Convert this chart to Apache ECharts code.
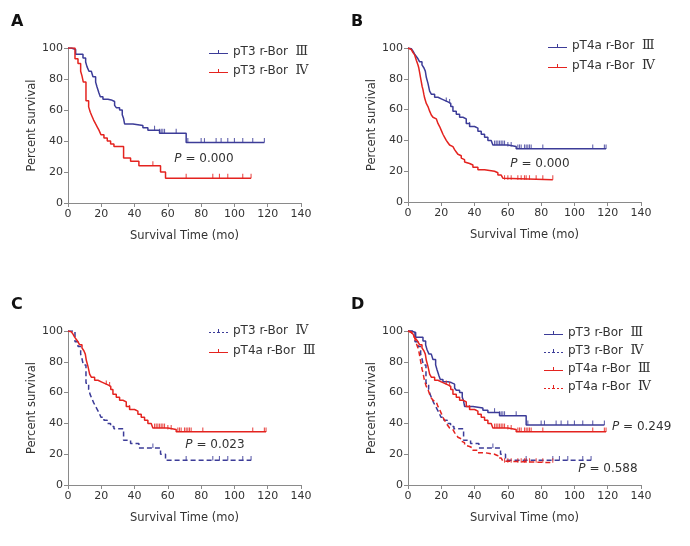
<!DOCTYPE html>
<html><head><meta charset="utf-8">
<script src="https://cdn.jsdelivr.net/npm/echarts@6/dist/echarts.min.js"></script>
<style>html,body{margin:0;padding:0;background:#fff}#c{width:690px;height:546px}</style>
</head><body><div id="c"></div>
<script>
// ---- data (months, percent survival; step changes) ----
const pT3_III_t = [0, 2, 4.6, 9, 10.6, 11.4, 12.6, 14, 15, 16.6, 17.4, 18.6, 19.4, 21, 24, 26, 28, 29, 31, 32.6, 33.4, 34, 39, 45, 48, 55, 71, 118];
const pT3_III_s = [100, 99, 96, 93.5, 91, 88, 85, 84, 81.5, 78, 75, 71, 68.5, 67, 66.5, 65.5, 63, 61.5, 60, 57, 54.5, 51, 50, 48.5, 47, 45, 39, 39];
const pT3_III_c = [52, 55, 56, 57, 58, 65, 72, 80, 82, 89, 92, 96, 100, 105, 111, 118];

const pT3_IV_t = [0, 4.2, 6, 7.6, 8.4, 9.2, 10.8, 12.4, 13.4, 14.4, 15.4, 16.6, 17.6, 18.6, 19.8, 21.6, 23.6, 25.6, 27.6, 33.4, 37.6, 42.6, 55.6, 58.6, 110];
const pT3_IV_s = [100, 93, 90, 85, 82, 78, 66, 62, 58.5, 56, 53.5, 51, 49, 47, 44, 42, 40, 38, 36.5, 29, 27, 24, 20, 16, 16];
const pT3_IV_c = [51, 71, 87, 91, 96, 105, 110];

const pT4a_III_t = [0, 1, 2, 3, 4, 5, 6, 7, 8.4, 9.6, 10.4, 11, 12, 13, 14, 16, 18, 20, 22, 24, 25.7, 27, 29, 31, 33, 35, 37, 40, 42, 44, 46, 48, 50, 51, 60, 65, 119];
const pT4a_III_s = [100, 99.5, 99, 98, 96, 94.5, 93, 91, 89, 87, 85, 81, 77, 72, 70, 68, 67, 66, 65, 64, 62, 59, 57, 55, 54, 51, 49, 48, 46, 44, 42, 40, 39, 37, 36, 34.5, 34.5];
const pT4a_III_c = [23, 25, 37, 52, 53, 54, 55, 56, 57, 58, 60, 62, 66, 67, 68, 70, 71, 72, 73, 74, 81, 111, 118, 119];

const pT4a_IV_t = [0, 1, 2, 3, 4, 5, 6, 6.5, 7, 7.5, 8, 8.5, 9, 9.5, 10, 11, 12, 13, 14, 15, 16, 17, 18, 19, 20, 21, 22, 23, 24, 25, 26, 27, 28, 29, 30, 31, 32, 33, 34, 35, 37, 39, 42, 46, 49, 52, 54, 56, 57, 58, 87];
const pT4a_IV_s = [100, 99, 98, 97, 95.5, 92, 89, 87, 84, 81, 78, 75, 73, 70, 67.5, 64, 62, 59, 56.5, 55, 54, 53, 51, 49, 46.5, 44, 42, 40, 38.5, 37, 36, 35, 34, 32.5, 31, 30, 28.5, 27.5, 26, 25, 24, 22.5, 21, 20.5, 20, 19, 17.5, 16.5, 15.5, 14.5, 14.5];
const pT4a_IV_c = [58, 60, 62, 66, 68, 70, 71, 73, 77, 81, 87];

const xTicks = [0, 20, 40, 60, 80, 100, 120, 140];
const yTicks = [0, 20, 40, 60, 80, 100];
const pValues = { A: ['0.000'], B: ['0.000'], C: ['0.023'], D: ['0.249', '0.588'] };
const groups = {
  pT3_III: { label: 'pT3 r-Bor Ⅲ', t: pT3_III_t, s: pT3_III_s, c: pT3_III_c },
  pT3_IV: { label: 'pT3 r-Bor Ⅳ', t: pT3_IV_t, s: pT3_IV_s, c: pT3_IV_c },
  pT4a_III: { label: 'pT4a r-Bor Ⅲ', t: pT4a_III_t, s: pT4a_III_s, c: pT4a_III_c },
  pT4a_IV: { label: 'pT4a r-Bor Ⅳ', t: pT4a_IV_t, s: pT4a_IV_s, c: pT4a_IV_c }
};

// ---- styling ----
const BLUE = '#3c3c98', RED = '#e4231f';
const FONT = 'DejaVu Sans, Verdana, sans-serif';
const panels = [
  { id: 'A', grid: { left: 68, top: 48, width: 233, height: 155 }, legend: { left: 209, top: 45, gap: 5 },
    items: [['pT3_III', BLUE, false], ['pT3_IV', RED, false]] },
  { id: 'B', grid: { left: 408, top: 48, width: 233, height: 154 }, legend: { left: 548, top: 39, gap: 6 },
    items: [['pT4a_III', BLUE, false], ['pT4a_IV', RED, false]] },
  { id: 'C', grid: { left: 68, top: 331, width: 233, height: 154 }, legend: { left: 209, top: 324, gap: 6 },
    items: [['pT3_IV', BLUE, true], ['pT4a_III', RED, false]] },
  { id: 'D', grid: { left: 408, top: 331, width: 233, height: 154 }, legend: { left: 544, top: 326, gap: 4 },
    items: [['pT3_III', BLUE, false], ['pT3_IV', BLUE, true], ['pT4a_III', RED, false], ['pT4a_IV', RED, true]] }
];
const ICON_SOLID = 'path://M0,3h19v1H0z M9,0h1v3H9z';
const ICON_DASH = 'path://M0,3h2v1H0z M4,3h2v1H4z M8,3h3v1H8z M13,3h2v1h-2z M17,3h2v1h-2z M9,0h1v3H9z';

function survAt(t, s, x) { let v = s[0]; for (let i = 0; i < t.length; i++) { if (t[i] <= x) v = s[i]; } return v; }

const option = { animation: false, backgroundColor: '#fff', grid: [], xAxis: [], yAxis: [], legend: [], series: [], graphic: [] };
panels.forEach((p, gi) => {
  option.grid.push(p.grid);
  option.xAxis.push({
    gridIndex: gi, type: 'value', min: xTicks[0], max: xTicks[xTicks.length - 1], interval: 20,
    name: 'Survival Time (mo)', nameLocation: 'middle', nameGap: 27,
    nameTextStyle: { fontFamily: FONT, fontSize: 11.5, color: '#333' },
    axisLine: { lineStyle: { color: '#8a8a8a', width: 1 } },
    axisTick: { length: 4, lineStyle: { color: '#8a8a8a' } },
    axisLabel: { fontFamily: FONT, fontSize: 11, color: '#333', margin: 6 },
    splitLine: { show: false }
  });
  option.yAxis.push({
    gridIndex: gi, type: 'value', min: yTicks[0], max: yTicks[yTicks.length - 1], interval: 20,
    name: 'Percent survival', nameLocation: 'middle', nameGap: 30,
    nameTextStyle: { fontFamily: FONT, fontSize: 11.5, color: '#333' },
    axisLine: { show: true, lineStyle: { color: '#8a8a8a', width: 1 } },
    axisTick: { show: true, length: 4, lineStyle: { color: '#8a8a8a' } },
    axisLabel: { fontFamily: FONT, fontSize: 11, color: '#333', margin: 5 },
    splitLine: { show: false }
  });
  const legendData = [];
  p.items.forEach(([key, color, dashed]) => {
    const g = groups[key];
    const name = p.id + '|' + g.label;
    option.series.push({
      type: 'line', name, xAxisIndex: gi, yAxisIndex: gi, step: 'end', symbol: 'none',
      color, lineStyle: { color, width: 1.5, type: dashed ? [5, 3] : 'solid' },
      data: g.t.map((t, i) => [t, g.s[i]]), z: 3
    });
    option.series.push({
      type: 'scatter', name: name + '#c', xAxisIndex: gi, yAxisIndex: gi, symbol: 'rect',
      symbolSize: [1.1, 4.5], symbolOffset: [0, -2.2], itemStyle: { color }, silent: true,
      data: g.c.map(c => [c, survAt(g.t, g.s, c)]), z: 4
    });
    legendData.push({ name, icon: dashed ? ICON_DASH : ICON_SOLID, itemStyle: { color, borderWidth: 0 } });
  });
  option.legend.push({
    orient: 'vertical', left: p.legend.left, top: p.legend.top, itemGap: p.legend.gap,
    itemWidth: 19, itemHeight: 4, padding: 0, selectedMode: false, data: legendData,
    textStyle: { fontFamily: FONT, fontSize: 12, color: '#333', lineHeight: 14,
      rich: { r: { fontFamily: 'DejaVu Serif, Liberation Serif, serif', fontSize: 13, color: '#333', lineHeight: 14 } } },
    formatter: n => { const s = n.split('|')[1]; const k = s.lastIndexOf(' '); return s.slice(0, k) + '  {r|' + s.slice(k + 1) + '}'; }
  });
  option.graphic.push({ type: 'text', left: p.grid.left - 57, top: p.grid.top - 34,
    style: { text: p.id, font: 'bold 16px ' + FONT, fill: '#111' } });
});
// P-value annotations
const pPos = [['A', 0, 204, 159, 'center'], ['B', 0, 540, 164, 'center'], ['C', 0, 215, 445, 'center'], ['D', 0, 612, 427, 'left'], ['D', 1, 608, 469, 'center']];
pPos.forEach(([id, k, x, y, al]) => {
  option.graphic.push({ type: 'text', x, y,
    style: { text: '{i|P} = ' + pValues[id][k], align: al, verticalAlign: 'middle', textAlign: al, textVerticalAlign: 'middle',
      font: '12px ' + FONT, fill: '#333', rich: { i: { fontStyle: 'italic', fontFamily: FONT, fontSize: 12, fill: '#333' } } } });
});
const chart = echarts.init(document.getElementById('c'), null, { renderer: 'canvas' });
chart.setOption(option);
</script></body></html>
